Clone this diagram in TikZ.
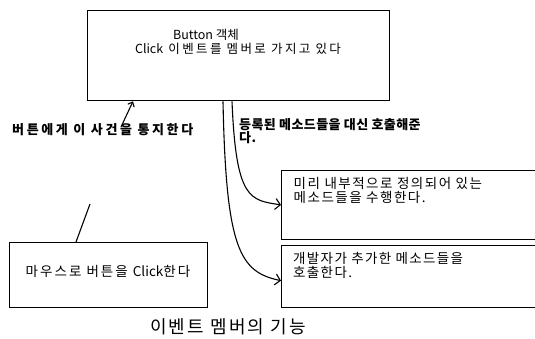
\documentclass[tikz,border=0pt]{standalone}
\usepackage{fontspec}
\setmainfont{Noto Sans CJK KR}
\usetikzlibrary{arrows.meta}
\newcommand{\lat}[1]{{\addfontfeature{LetterSpace=0}#1}}
\tikzset{
  box/.style={draw=black, line width=1.3pt, inner sep=0pt, anchor=north west},
  txt/.style={inner sep=0pt, text=black, align=left},
  conn/.style={draw=black, line width=1.1pt},
  arr/.style={conn, -{Straight Barb[length=5pt,width=11pt,line width=1.1pt]}},
  sarr/.style={conn, -{Straight Barb[length=4pt,width=7pt,line width=1.1pt]}}
}
\begin{document}
\begin{tikzpicture}[x=1pt,y=-1pt]
\useasboundingbox[fill=white] (0,0) rectangle (535,338);
% boxes
\node[box, minimum width=302pt, minimum height=90pt] (btn) at (87,10) {};
\node[box, minimum width=198pt, minimum height=65pt] (mouse) at (8.5,242) {};
\node[box, minimum width=262pt, minimum height=68.5pt] (pre) at (281,170) {};
\node[box, minimum width=262pt, minimum height=62pt] (dev) at (281,245) {};
% texts
\node[txt, font=\fontsize{12.5}{13}\selectfont] (btitle) at (206,35) {Button 객체};
\node[txt, font=\fontsize{12.5}{13}\selectfont\addfontfeature{LetterSpace=19}] (bsub) at (238,49) {\lat{Click} 이벤트를 멤버로 가지고 있다};
\node[txt, anchor=west, font=\bfseries\fontsize{13}{14}\selectfont\addfontfeature{LetterSpace=20}] (notify) at (12,130) {버튼에게 이 사건을 통지한다};
\node[txt, anchor=north west, font=\bfseries\fontsize{13}{12}\selectfont\addfontfeature{LetterSpace=3}] (call) at (239,118) {등록된 메소드들을 대신 호출해준\\다.};
\node[txt, anchor=north west, font=\fontsize{13.5}{10.5}\selectfont\addfontfeature{LetterSpace=11}] (pretxt) at (293.5,177.5) {미리 내부적으로 정의되어 있는\\메소드들을 수행한다.};
\node[txt, anchor=north west, font=\fontsize{13.5}{10}\selectfont\addfontfeature{LetterSpace=10}] (devtxt) at (293,252.5) {개발자가 추가한 메소드들을\\호출한다.};
\node[txt, anchor=west, font=\fontsize{13.5}{14}\selectfont\addfontfeature{LetterSpace=15}] (mtxt) at (25.5,271) {마우스로 버튼을 \lat{Click}한다};
\node[txt, font=\fontsize{18}{19}\selectfont\addfontfeature{LetterSpace=12}] (cap) at (228,327) {이벤트 멤버의 기능};
% connectors
\coordinate (s1) at ([xshift=145pt]btn.south west);
\coordinate (s2) at ([xshift=136pt]btn.south west);
\coordinate (ntip) at ([xshift=46pt]btn.south west);
\coordinate (ntail) at (121,127);
\coordinate (lend) at (90,204);
\draw[arr] (s1) .. controls (236,200) and (250,200) .. (pre.west);
\draw[arr] (s2) .. controls (226,250) and (240,272) .. ([yshift=-4pt]dev.west);
\draw[sarr] (ntail) -- (ntip);
\draw[conn] ([xshift=67.5pt]mouse.north west) -- (lend);
\end{tikzpicture}
\end{document}
